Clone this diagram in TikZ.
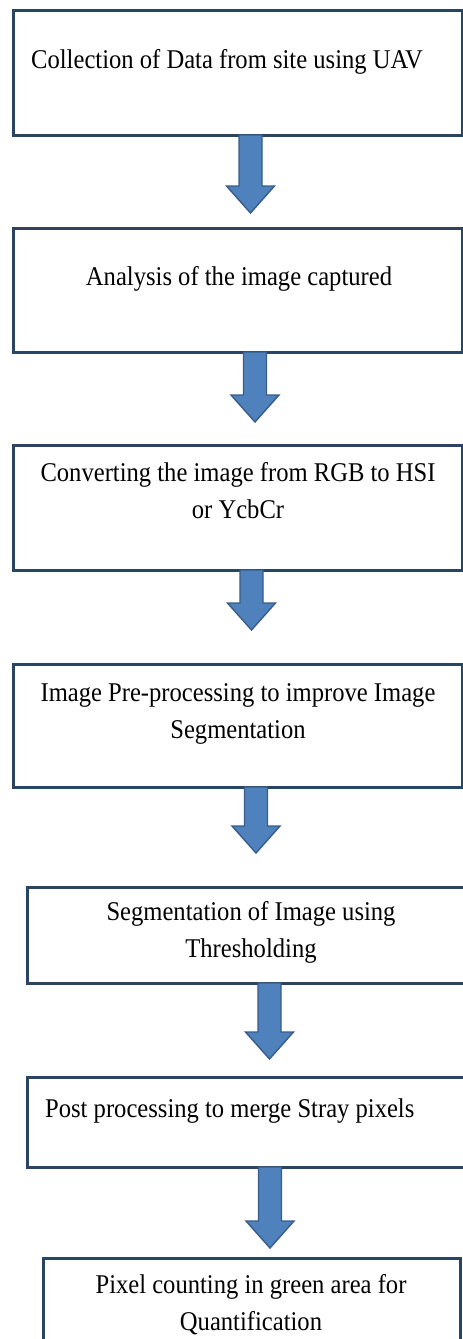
\documentclass[tikz,border=0pt]{standalone}
\usepackage{fontspec}
\setmainfont{Liberation Serif}
\usetikzlibrary{calc}

\definecolor{boxline}{HTML}{2A4463}
\definecolor{arrowfill}{HTML}{4F81BD}
\definecolor{arrowline}{HTML}{385D8A}

% block arrow from the bottom of one box towards the top of the next:
% #1 source box, #2 target box, #3 centre x, #4 gap left above the target
\newcommand{\flowarrow}[4]{%
  \draw[blockarrow] let \p1=(#1.south), \p2=(#2.north) in
    (#3pt-11.5pt,\y1) -- (#3pt+11.5pt,\y1)
    -- (#3pt+11.5pt,\y2+#4pt+27pt) -- (#3pt+24pt,\y2+#4pt+27pt)
    -- (#3pt,\y2+#4pt)
    -- (#3pt-24pt,\y2+#4pt+27pt) -- (#3pt-11.5pt,\y2+#4pt+27pt) -- cycle;}

\begin{document}
\begin{tikzpicture}[x=1pt,y=1pt,
  stepbox/.style={draw=boxline, line width=3pt, fill=white, rectangle,
    inner sep=0pt, outer sep=0pt, anchor=north west},
  label/.style={inner sep=0pt, font=\fontsize{24.6}{33.2}\selectfont,
    text=black, align=center, yscale=1.1, transform shape},
  blockarrow/.style={fill=arrowfill, draw=arrowline, line width=1.4pt,
    line join=miter}]
\useasboundingbox (0,0) rectangle (463,-1339);
\fill[white] (0,0) rectangle (463,-1339);
\clip (0,0) rectangle (463,-1339);

% process boxes
\node[stepbox, minimum width=449pt, minimum height=125pt] (b1) at (13,-10) {};
\node[stepbox, minimum width=449pt, minimum height=124pt] (b2) at (13,-228) {};
\node[stepbox, minimum width=449pt, minimum height=125pt] (b3) at (13,-445) {};
\node[stepbox, minimum width=449pt, minimum height=123pt] (b4) at (13,-664) {};
\node[stepbox, minimum width=460pt, minimum height=96pt] (b5) at (27,-887) {};
\node[stepbox, minimum width=460pt, minimum height=90pt] (b6) at (27,-1077) {};
\node[stepbox, minimum width=417pt, minimum height=120pt] (b7) at (43,-1258) {};

% box texts (base anchor sits on the last line)
\node[label, anchor=base west] (t1) at (31,-68) {Collection of Data from site using UAV};
\node[label, anchor=base] (t2) at (239,-285) {Analysis of the image captured};
\node[label, anchor=base] (t3) at (238,-518) {Converting the image from RGB to HSI\\or YcbCr};
\node[label, anchor=base] (t4) at (238,-738) {Image Pre-processing to improve Image\\Segmentation};
\node[label, anchor=base] (t5) at (251,-957) {Segmentation of Image using\\Thresholding};
\node[label, anchor=base west] (t6) at (45,-1117) {Post processing to merge Stray pixels};
\node[label, anchor=base] (t7) at (251,-1330) {Pixel counting in green area for\\Quantification};

% arrows between the steps
\flowarrow{b1}{b2}{250.5}{15}
\flowarrow{b2}{b3}{255}{23}
\flowarrow{b3}{b4}{251.5}{34}
\flowarrow{b4}{b5}{256}{34}
\flowarrow{b5}{b6}{269.5}{18}
\flowarrow{b6}{b7}{270}{10}
\end{tikzpicture}
\end{document}
